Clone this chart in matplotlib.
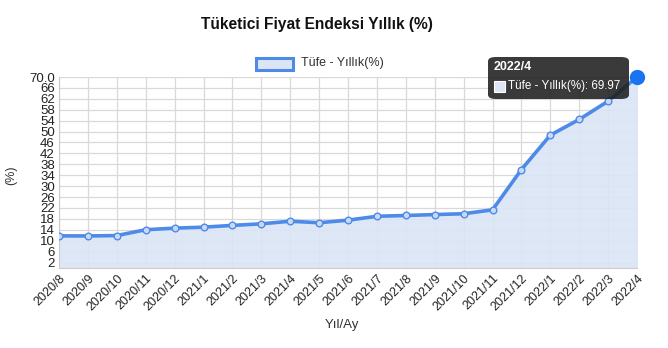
import matplotlib.pyplot as plt
from matplotlib.patches import FancyBboxPatch, Rectangle

plt.rcParams['font.family'] = ['Liberation Sans', 'DejaVu Sans']

months = ['2020/8', '2020/9', '2020/10', '2020/11', '2020/12',
          '2021/1', '2021/2', '2021/3', '2021/4', '2021/5', '2021/6',
          '2021/7', '2021/8', '2021/9', '2021/10', '2021/11', '2021/12',
          '2022/1', '2022/2', '2022/3', '2022/4']
tufe = [11.77, 11.75, 11.89, 14.03, 14.60, 14.97, 15.61, 16.19, 17.14,
        16.59, 17.53, 18.95, 19.25, 19.58, 19.89, 21.31, 36.08, 48.69,
        54.44, 61.14, 69.97]
ytick_vals = list(range(2, 67, 4)) + [70]
ytick_labels = [str(v) for v in range(2, 67, 4)] + ['70.0']

line_color = '#4e8be8'
fill_color = '#dbe5f6'
W, H = 668, 348

fig = plt.figure(figsize=(W / 100, H / 100), dpi=100)
ax = fig.add_axes([59 / W, 80 / H, 578 / W, 191 / H])

x = list(range(len(months)))
ax.fill_between(x, tufe, 0, color=fill_color, alpha=0.9, zorder=1)
ax.plot(x, tufe, color=line_color, lw=2.6, marker='o', ms=4.8,
        mfc='#c9d9f4', mec=line_color, mew=1.0, zorder=3)
ax.plot(x[-1], tufe[-1], 'o', ms=10, color='#1a73f0', zorder=4, clip_on=False)

ax.set_xlim(0, len(months) - 1)
ax.set_ylim(0, 70)
ax.set_yticks(ytick_vals)
ax.set_yticklabels(ytick_labels, fontsize=9.5, color='#222222')
ax.set_xticks(x)
ax.set_xticklabels(months, rotation=45, ha='right', rotation_mode='anchor',
                   fontsize=9, color='#222222')
ax.tick_params(length=0, pad=3)
ax.grid(True, color='#d9d9d9', lw=0.9)
ax.set_axisbelow(True)
for s in ax.spines.values():
    s.set_visible(False)
ax.spines['left'].set_visible(True)
ax.spines['left'].set_color('#cccccc')
ax.spines['bottom'].set_visible(True)
ax.spines['bottom'].set_color('#cccccc')

fig.text(317 / W, 1 - 25 / H, 'Tüketici Fiyat Endeksi Yıllık (%)', ha='center',
         va='center', fontsize=11.2, fontweight='bold', color='#111111')

# legend
fig.patches.append(Rectangle((256 / W, 1 - 70 / H), 37 / W, 12 / H,
                             transform=fig.transFigure, facecolor=fill_color,
                             edgecolor=line_color, lw=2.2))
fig.text(301 / W, 1 - 63 / H, 'Tüfe - Yıllık(%)', ha='left', va='center',
         fontsize=9, color='#333333')

fig.text(11 / W, 1 - 175 / H, '(%)', rotation=90, ha='center', va='center',
         fontsize=9, color='#333333')
fig.text(342 / W, 1 - 325 / H, 'Yıl/Ay', ha='center', va='center',
         fontsize=9.5, color='#333333')

# tooltip
fig.patches.append(FancyBboxPatch((488 / W, 1 - 99 / H), 141 / W, 42 / H,
                                  boxstyle='round,pad=0,rounding_size=0.012',
                                  transform=fig.transFigure,
                                  facecolor='#1e1e1e', alpha=0.88,
                                  edgecolor='none', zorder=10))
fig.text(494 / W, 1 - 67 / H, '2022/4', ha='left', va='center', fontsize=9,
         fontweight='bold', color='white', zorder=11)
fig.patches.append(Rectangle((494 / W, 1 - 92 / H), 11 / W, 11 / H,
                             transform=fig.transFigure, facecolor=fill_color,
                             edgecolor='white', lw=0.8, zorder=11))
fig.text(508 / W, 1 - 86 / H, 'Tüfe - Yıllık(%): 69.97', ha='left',
         va='center', fontsize=8.4, color='white', zorder=11)

fig.savefig('out.png', dpi=100)
